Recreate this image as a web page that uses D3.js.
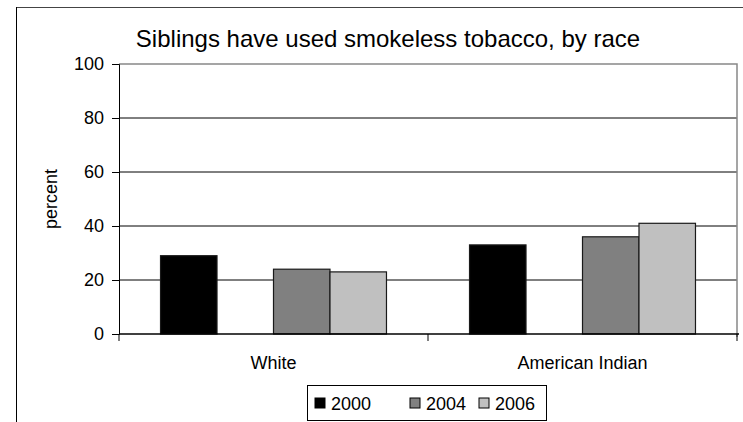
<!DOCTYPE html>
<html><head><meta charset="utf-8">
<script src="https://cdn.jsdelivr.net/npm/d3@7"></script>
<style>body{margin:0;background:#fff}svg{display:block}text{font-family:"Liberation Sans",Arial,sans-serif;fill:#000}</style>
</head><body><svg id="c" width="743" height="422"></svg>
<script>
const title = "Siblings have used smokeless tobacco, by race";
const categories = ["White", "American Indian"];
const seriesNames = ["2000", "", "2004", "2006"];
const seriesColors = ["#000000", "none", "#808080", "#c0c0c0"];
const values2000 = [29, 33];
const values2002 = [null, null];
const values2004 = [24, 36];
const values2006 = [23, 41];
const yTicks = [0, 20, 40, 60, 80, 100];
const yLabel = "percent";

const seriesValues = [values2000, values2002, values2004, values2006];
const svg = d3.select("#c");
const m = {l: 119, r: 737, t: 64, b: 334};

// outer frame
svg.append("line").attr("x1",16).attr("x2",743).attr("y1",7.5).attr("y2",7.5).attr("stroke","#444");
svg.append("line").attr("x1",16.5).attr("x2",16.5).attr("y1",7).attr("y2",422).attr("stroke","#000");

const x0 = d3.scaleBand().domain(categories).range([m.l, m.r]).paddingInner(0).paddingOuter(0);
const bw = x0.bandwidth() / 5.47;
const x1 = d3.scaleBand().domain(d3.range(seriesNames.length)).range([0, bw*4]);
const y = d3.scaleLinear().domain([0, 100]).range([m.b, m.t]);

// gridlines
svg.append("g").selectAll("line").data(yTicks.filter(t => t > 0 && t < 100)).join("line")
  .attr("x1", m.l).attr("x2", m.r).attr("y1", d => y(d)).attr("y2", d => y(d))
  .attr("stroke", "#000").attr("stroke-width", 1);
// plot border top/right gray
svg.append("path").attr("d", `M${m.l},${y(100)}H${m.r}V${m.b+3}`).attr("fill","none").attr("stroke","#888").attr("stroke-width",1.5);

// bars
const g = svg.append("g");
categories.forEach((c, ci) => {
  const off = x0(c) + (x0.bandwidth() - bw*4) / 2;
  seriesValues.forEach((vals, si) => {
    const v = vals[ci];
    if (v == null) return;
    g.append("rect")
      .attr("x", off + x1(si)).attr("width", x1.bandwidth())
      .attr("y", y(v)).attr("height", y(0) - y(v))
      .attr("fill", seriesColors[si]).attr("stroke", "#1a1a1a").attr("stroke-width", 1.2);
  });
});

// y axis
const ya = d3.axisLeft(y).tickValues(yTicks).tickSize(7).tickPadding(8);
svg.append("g").attr("transform", `translate(${m.l},0)`).call(ya)
  .call(s => s.select(".domain").attr("stroke","#000"))
  .call(s => s.selectAll(".tick line").attr("stroke","#000"))
  .call(s => s.selectAll("text").attr("font-size", 18).attr("font-family", "Liberation Sans, Arial, sans-serif"));

// x axis
svg.append("line").attr("x1", m.l).attr("x2", m.r+2).attr("y1", m.b).attr("y2", m.b).attr("stroke","#000").attr("stroke-width",1.3);
svg.append("g").selectAll("line").data([x0(categories[0])].concat(categories.map(c => x0(c) + x0.bandwidth())))
  .join("line").attr("x1", d=>d).attr("x2", d=>d).attr("y1", m.b).attr("y2", m.b+7).attr("stroke","#000");
svg.append("g").selectAll("text").data(categories).join("text")
  .attr("x", d => x0(d) + x0.bandwidth()/2).attr("y", 369)
  .attr("text-anchor","middle").attr("font-size", 18).text(d => d);

// y label
svg.append("text").attr("transform", `translate(57,${(m.t+m.b)/2}) rotate(-90)`)
  .attr("text-anchor","middle").attr("font-size", 18).text(yLabel);

// title
svg.append("text").attr("x", 388).attr("y", 47).attr("text-anchor","middle").attr("font-size", 24).text(title);

// legend
const lg = svg.append("g");
lg.append("rect").attr("x", 307.5).attr("y", 385.5).attr("width", 239).attr("height", 35).attr("fill","#fff").attr("stroke","#000");
const legX = [315, 383, 410, 479];
seriesNames.forEach((n, i) => {
  if (!n) return;
  lg.append("rect").attr("x", legX[i]).attr("y", 398).attr("width", 10).attr("height", 10)
    .attr("fill", seriesColors[i]).attr("stroke", "#000");
  lg.append("text").attr("x", legX[i] + 16).attr("y", 410).attr("font-size", 18).text(n);
});
</script></body></html>
